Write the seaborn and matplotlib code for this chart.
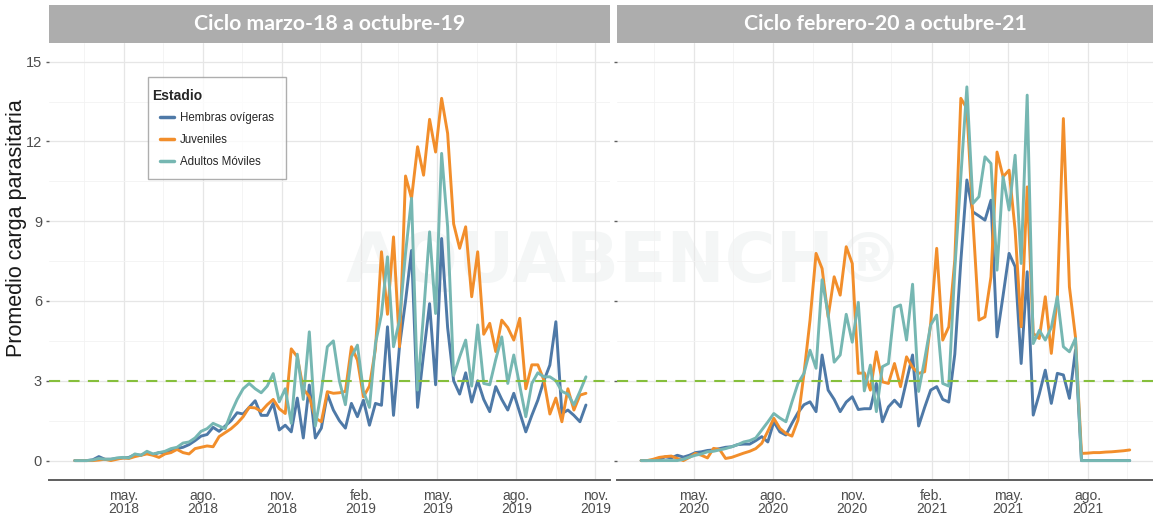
import pandas as pd
import matplotlib
matplotlib.use('Agg')
import matplotlib.pyplot as plt
import matplotlib.dates as mdates
from matplotlib.lines import Line2D
from matplotlib.patches import Rectangle
from matplotlib.ticker import FuncFormatter, MultipleLocator
from matplotlib.transforms import ScaledTranslation
import seaborn as sns

# ===== 1. Datos: promedio semanal de carga parasitaria por estadio =====
estadios = ['Hembras ovígeras', 'Juveniles', 'Adultos Móviles']
colores = ['#4E79A7', '#F28E2B', '#76B7B2']

titulo_1 = 'Ciclo marzo-18 a octubre-19'
inicio_1 = '2018-03-05'
hembras_1 = [0.0, 0.0, 0.0, 0.03, 0.15, 0.05, 0.05, 0.08, 0.1, 0.12,
             0.22, 0.2, 0.3, 0.22, 0.3, 0.28, 0.38, 0.45, 0.5, 0.6,
             0.75, 0.92, 0.98, 1.25, 1.1, 1.3, 1.5, 1.8, 1.75, 2.0,
             2.25, 1.7, 1.7, 2.15, 1.15, 1.33, 1.08, 2.35, 0.85, 2.84,
             0.85, 1.22, 2.5, 1.9, 1.5, 1.22, 2.15, 1.65, 2.27, 1.33,
             2.15, 2.08, 5.03, 1.7, 4.3, 6.0, 7.9, 2.0, 4.0, 5.9,
             2.85, 8.35, 5.0, 3.0, 2.5, 3.3, 2.2, 3.0, 2.3, 1.84,
             2.78, 2.3, 1.9, 2.53, 1.8, 1.08, 1.7, 2.27, 3.0, 3.59,
             5.22, 1.77, 1.9, 1.7, 1.46, 2.09]
juveniles_1 = [0.0, 0.0, 0.0, 0.0, 0.02, 0.05, 0.0, 0.05, 0.1, 0.08,
               0.15, 0.2, 0.25, 0.2, 0.12, 0.25, 0.3, 0.42, 0.3, 0.25,
               0.45, 0.5, 0.55, 0.52, 0.9, 1.05, 1.2, 1.4, 1.65, 2.0,
               1.98, 1.85, 2.1, 2.3, 1.95, 1.77, 4.2, 3.9, 2.7, 2.4,
               1.6, 1.46, 2.59, 2.53, 2.55, 2.6, 4.28, 3.78, 2.4, 2.8,
               4.2, 7.85, 5.5, 8.41, 4.28, 10.7, 9.86, 11.8, 10.73, 12.83,
               11.6, 13.62, 12.3, 8.9, 7.98, 8.79, 6.16, 7.85, 4.75, 5.16,
               4.1, 5.28, 5.0, 4.53, 5.35, 2.7, 3.6, 3.6, 3.03, 1.75,
               2.35, 1.46, 2.7, 1.9, 2.46, 2.53]
adultos_1 = [0.0, 0.0, 0.0, 0.02, 0.08, 0.05, 0.05, 0.1, 0.12, 0.1,
             0.25, 0.2, 0.35, 0.25, 0.3, 0.35, 0.45, 0.5, 0.66, 0.7,
             0.85, 1.1, 1.2, 1.4, 1.3, 1.2, 1.8, 2.3, 2.7, 2.9,
             2.7, 2.55, 2.8, 3.27, 2.21, 2.7, 1.4, 4.0, 2.3, 4.84,
             1.3, 2.6, 4.28, 4.5, 3.0, 2.1, 3.9, 4.34, 2.6, 2.0,
             4.4, 5.5, 7.66, 4.28, 5.28, 7.8, 9.86, 2.65, 5.53, 8.6,
             5.53, 11.55, 8.79, 3.2, 3.9, 4.53, 2.8, 5.1, 2.9, 2.85,
             3.8, 4.65, 2.9, 3.97, 2.8, 1.65, 2.9, 3.3, 3.15, 3.15,
             3.0, 2.6, 2.5, 2.09, 2.6, 3.15]

titulo_2 = 'Ciclo febrero-20 a octubre-21'
inicio_2 = '2020-03-01'
hembras_2 = [0.0, 0.0, 0.0, 0.05, 0.14, 0.1, 0.2, 0.13, 0.2, 0.3,
             0.33, 0.38, 0.4, 0.45, 0.5, 0.52, 0.6, 0.62, 0.62, 0.75,
             0.9, 0.7, 1.46, 1.08, 0.96, 1.4, 1.8, 2.1, 2.21, 1.84,
             3.97, 2.65, 2.3, 1.84, 2.2, 2.4, 1.92, 1.95, 1.95, 2.9,
             1.46, 2.02, 2.27, 2.02, 3.0, 3.97, 1.3, 2.0, 2.65, 2.78,
             2.3, 2.2, 4.0, 7.5, 10.55, 9.35, 9.2, 9.04, 9.79, 4.65,
             6.2, 7.79, 7.29, 3.65, 7.1, 1.71, 2.5, 3.4, 2.15, 3.28,
             3.22, 2.34, 4.15, 0.0, 0.0, 0.0, 0.0, 0.0, 0.0, 0.0,
             0.0, 0.0]
juveniles_2 = [0.0, 0.0, 0.05, 0.12, 0.15, 0.17, 0.08, 0.0, 0.12, 0.27,
               0.2, 0.1, 0.46, 0.42, 0.08, 0.12, 0.2, 0.28, 0.35, 0.45,
               0.65, 1.1, 1.59, 1.21, 1.02, 0.92, 1.52, 3.28, 5.28, 7.79,
               7.22, 5.4, 6.91, 6.22, 8.04, 7.41, 3.28, 3.3, 2.65, 4.09,
               2.96, 2.9, 3.65, 2.78, 3.9, 3.5, 3.28, 3.34, 5.16, 7.98,
               4.53, 5.03, 7.54, 13.62, 13.24, 9.04, 5.28, 5.4, 6.91, 11.6,
               10.67, 10.92, 8.67, 5.03, 10.29, 4.78, 4.59, 6.16, 4.03, 6.16,
               12.86, 6.53, 4.65, 0.27, 0.28, 0.3, 0.3, 0.32, 0.33, 0.35,
               0.37, 0.4]
adultos_2 = [0.0, 0.0, 0.0, 0.0, 0.0, 0.0, 0.0, 0.05, 0.13, 0.2,
             0.25, 0.33, 0.35, 0.4, 0.45, 0.52, 0.6, 0.7, 0.75, 0.85,
             1.15, 1.45, 1.77, 1.6, 1.46, 2.2, 2.9, 3.28, 4.15, 3.47,
             6.8, 5.5, 3.7, 3.97, 5.5, 4.45, 5.95, 2.62, 3.59, 1.84,
             3.53, 3.65, 5.75, 5.85, 4.53, 6.63, 2.6, 3.8, 5.1, 5.47,
             2.9, 2.8, 7.2, 10.67, 14.05, 9.67, 9.92, 11.42, 11.17, 7.16,
             10.67, 9.42, 11.48, 7.41, 13.74, 4.4, 4.9, 4.53, 5.0, 6.16,
             4.28, 4.09, 4.59, 0.0, 0.0, 0.0, 0.0, 0.0, 0.0, 0.0,
             0.0, 0.0]

umbral = 3
y_ticks = [0, 3, 6, 9, 12, 15]
meses = {2: 'feb.', 5: 'may.', 8: 'ago.', 11: 'nov.'}


def armar_ciclo(inicio, series):
    fechas = pd.date_range(inicio, periods=len(series[0]), freq='7D')
    partes = []
    for nombre, valores in zip(estadios, series):
        partes.append(pd.DataFrame({'fecha': fechas, 'carga': valores, 'estadio': nombre}))
    return pd.concat(partes, ignore_index=True)


ciclos = [
    (titulo_1, armar_ciclo(inicio_1, [hembras_1, juveniles_1, adultos_1]), ('2018-02-03', '2019-11-18')),
    (titulo_2, armar_ciclo(inicio_2, [hembras_2, juveniles_2, adultos_2]), ('2020-02-02', '2021-10-16')),
]


def fmt_fecha(x, pos):
    d = mdates.num2date(x)
    return f"{meses.get(d.month, '')}\n{d.year}"


# ===== 2. Estilo general =====
sns.set_style('white')
plt.rcParams['font.family'] = ['Liberation Sans', 'DejaVu Sans']
plt.rcParams['lines.scale_dashes'] = False

W, H = 1153, 522
fig = plt.figure(figsize=(W / 100, H / 100), dpi=100)

# bordes de cada panel en pixeles
paneles = [(49, 610), (617, 1153)]
arriba, abajo = 43, 480
alto_panel = abajo - arriba
alto_tira = 38

# marca de agua tenue
fig.text(625 / W, 1 - 262 / H, 'AQUABENCH®', fontsize=50, fontweight='bold',
         color='#f4f6f6', ha='center', va='center', zorder=0.5, family='DejaVu Sans')

# ===== 3. Paneles =====
for k, ((titulo, df, lims), (x0, x1)) in enumerate(zip(ciclos, paneles)):
    ax = fig.add_axes([x0 / W, 1 - abajo / H, (x1 - x0) / W, alto_panel / H])
    ax.set_facecolor('none')
    ax.set_zorder(1)

    sns.lineplot(data=df, x='fecha', y='carga', hue='estadio', hue_order=estadios,
                 palette=colores, linewidth=2.1, estimator=None, legend=False, ax=ax)
    ax.axhline(umbral, color='#86bf3c', lw=1.5, ls=(0, (8, 6)), zorder=5)

    ax.set_xlim(pd.Timestamp(lims[0]), pd.Timestamp(lims[1]))
    ax.set_ylim(-0.73, 15.7)
    ax.set_yticks(y_ticks)
    ax.yaxis.set_minor_locator(MultipleLocator(1.5))
    ax.xaxis.set_major_locator(mdates.MonthLocator(bymonth=[2, 5, 8, 11]))
    ax.xaxis.set_minor_locator(mdates.MonthLocator(bymonth=[3, 6, 9, 12], bymonthday=16))
    ax.xaxis.set_major_formatter(FuncFormatter(fmt_fecha))

    ax.grid(which='major', color='#e6e6e6', lw=0.9)
    ax.grid(which='minor', color='#f2f2f2', lw=0.6)
    ax.set_axisbelow(True)
    for lado in ['top', 'right', 'left']:
        ax.spines[lado].set_visible(False)
    ax.spines['bottom'].set_color('#5e5e5e')
    ax.spines['bottom'].set_linewidth(1.4)

    ax.tick_params(axis='x', which='major', length=3.5, width=1, color='#5e5e5e',
                   labelsize=10, labelcolor='#4d4d4d', pad=3)
    ax.tick_params(axis='y', which='major', left=True, length=2, width=1, color='#5e5e5e',
                   labelsize=10.5, labelcolor='#4d4d4d', pad=3)
    ax.tick_params(which='minor', length=0)
    if k == 1:
        ax.tick_params(axis='y', labelleft=False)
    for t in ax.xaxis.get_major_ticks():
        t.label1.set_linespacing(0.9)
    ax.set_xlabel('')
    ax.set_ylabel('')

    # tira gris con el titulo del ciclo
    ax.add_patch(Rectangle((0, 1), 1, alto_tira / alto_panel, transform=ax.transAxes,
                           facecolor='#adadad', edgecolor='none', clip_on=False))
    ax.text(0.5, 1 + (alto_tira / 2) / alto_panel, titulo, transform=ax.transAxes,
            ha='center', va='center', color='white', fontsize=15.3, fontweight='bold',
            family=['Lato', 'DejaVu Sans'])

    if k == 0:
        manijas = [Line2D([], [], color=c, lw=2.5) for c in colores]
        leg = ax.legend(manijas, estadios, title='Estadio', loc='upper left',
                        bbox_to_anchor=((148 - x0) / (x1 - x0), (abajo - 77) / alto_panel),
                        borderaxespad=0, frameon=True, fancybox=False, edgecolor='#9a9a9a',
                        fontsize=8.3, title_fontproperties={'weight': 'bold', 'size': 10},
                        handlelength=1.25, handletextpad=0.55, labelspacing=0.85,
                        borderpad=1.0, alignment='left')
        leg.get_frame().set_linewidth(1.0)
        # el titulo de la leyenda queda un poco a la izquierda de las claves
        tit = leg.get_title()
        tit.set_transform(tit.get_transform() + ScaledTranslation(-7 / 100, 0, fig.dpi_scale_trans))

fig.text(17 / W, 1 - 228 / H, 'Promedio carga parasitaria', rotation=90,
         ha='center', va='center', fontsize=15.5, color='#1a1a1a')

fig.savefig('out.png', dpi=100)
